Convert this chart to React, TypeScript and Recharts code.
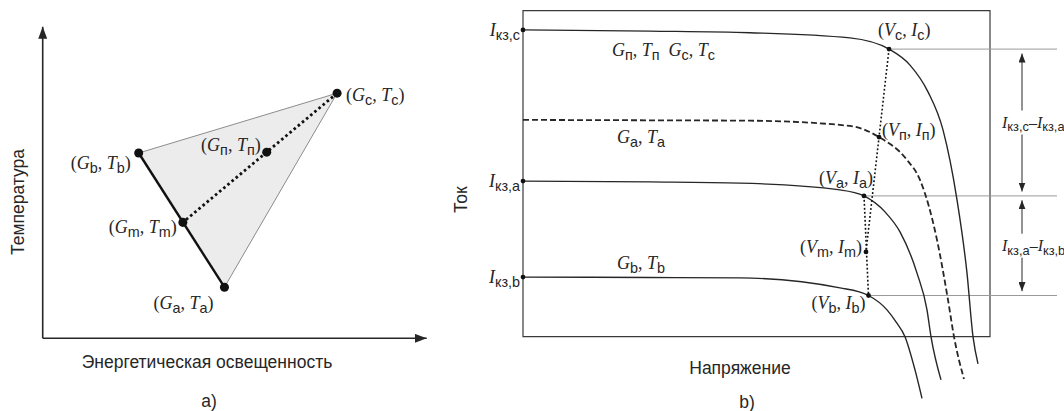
import React from 'react';
import {
  ComposedChart,
  Line,
  Scatter,
  XAxis,
  YAxis,
  ReferenceArea,
  ReferenceLine,
  ReferenceDot,
} from 'recharts';

const SERIF = '"Liberation Serif", "Times New Roman", serif';
const SANS = '"Liberation Sans", Arial, sans-serif';
const INK = '#262626';
const THIN = '#9a9a9a';

// a) irradiance G (W/m²) vs cell temperature T (°C)
const POINT_KEYS = ['c', 'b', 'п', 'm', 'a'];
const POINT_G = [920, 300, 700, 438, 568];
const POINT_T = [59, 44.6, 44.8, 27.9, 12.3];
const G_MAX = 1200;
const T_MAX = 75;

// b) I–V curves, voltage V and current I
const CURVE_C_V = [0, 12.7, 22.7, 32.7, 36.6, 38.7, 40.5, 42.0, 43.4, 44.4, 45.0, 45.5];
const CURVE_C_I = [7.67, 7.64, 7.6, 7.47, 7.19, 6.79, 6.12, 5.17, 3.42, 1.59, 0, -0.68];
const CURVE_N_V = [0, 12.7, 22.7, 32.7, 35.6, 38.4, 39.7, 41.4, 42.5, 43.1, 44.1];
const CURVE_N_I = [5.42, 5.41, 5.4, 5.27, 4.99, 4.42, 3.92, 2.42, 0.92, 0, -1.06];
const CURVE_A_V = [0, 12.7, 21.7, 31.7, 34.1, 36.2, 37.7, 39.4, 40.4, 40.8, 41.8];
const CURVE_A_I = [3.89, 3.87, 3.84, 3.67, 3.52, 3.12, 2.62, 1.59, 0.67, 0, -1.08];
const CURVE_B_V = [0, 12.7, 21.7, 31.7, 34.55, 36.4, 37.3, 38.2, 39.2, 39.9];
const CURVE_B_I = [1.49, 1.48, 1.47, 1.22, 1.03, 0.67, 0.37, 0, -0.83, -1.54];

// operating points (V, I) on each curve
const OP_KEYS = ['c', 'п', 'a', 'm', 'b'];
const OP_V = [36.6, 35.6, 34.1, 34.3, 34.55];
const OP_I = [7.19, 4.99, 3.52, 2.12, 1.03];

// short-circuit currents
const ISC_KEYS = ['c', 'a', 'b'];
const ISC_I = [7.67, 3.89, 1.49];

const FRAME_V = 46.7;
const FRAME_I = 8.15;
const GUIDE_END_V = 53.4;
const SPAN_V = 49.9;

type Seg = [string, number]; // 0 upright, 1 italic, 2 subscript

const zip = (xs: number[], ys: number[]) => xs.map((v, i) => ({ v, i: ys[i] }));

const pair = (a: string, b: string, s: string): Seg[] => [
  ['(', 0], [a, 1], [s, 2], [', ', 0], [b, 1], [s, 2], [')', 0],
];
const gt = (s: string): Seg[] => [['G', 1], [s, 2], [', ', 0], ['T', 1], [s, 2]];
const isc = (s: string): Seg[] => [['I', 1], ['кз,' + s, 2]];

const MathText = ({ x, y, segs, anchor = 'start', size = 18 }: {
  x: number; y: number; segs: Seg[]; anchor?: 'start' | 'end' | 'middle'; size?: number;
}) => {
  const drop = size * 0.22;
  let low = false;
  return (
    <text x={x} y={y + size * 0.33} textAnchor={anchor} fill={INK} fontFamily={SERIF} fontSize={size} style={{ whiteSpace: 'pre' }}>
      {segs.map(([s, k], i) => {
        const sub = k === 2;
        const dy = sub === low ? 0 : sub ? drop : -drop;
        low = sub;
        return (
          <tspan key={i} dy={dy} fontStyle={k === 1 ? 'italic' : 'normal'} fontFamily={sub ? SANS : SERIF} fontSize={sub ? size * 0.8 : size}>
            {s}
          </tspan>
        );
      })}
    </text>
  );
};

const sans = (x: number, y: number, s: string, rotate = false) => (
  <text
    x={x}
    y={y}
    textAnchor="middle"
    dominantBaseline="central"
    fontFamily={SANS}
    fontSize={17.5}
    fill={INK}
    transform={rotate ? `rotate(-90 ${x} ${y})` : undefined}
  >
    {s}
  </text>
);

// text tied to a data point, shifted by a few pixels
const tag = (key: string, x: number, y: number, segs: Seg[], dx: number, dy: number, anchor: 'start' | 'end' = 'start', size = 18) => (
  <ReferenceDot
    key={key}
    x={x}
    y={y}
    r={0}
    fill="none"
    stroke="none"
    ifOverflow="visible"
    label={{
      content: (p: any) => (
        <MathText x={p.viewBox.x + dx} y={p.viewBox.y + dy} segs={segs} anchor={anchor} size={size} />
      ),
    }}
  />
);

const noShape = () => <g />;

const PanelA = () => {
  const pts = POINT_KEYS.map((k, i) => ({ key: k, g: POINT_G[i], t: POINT_T[i] }));
  const P = (k: string) => pts.find((p) => p.key === k)!;
  const labelOffsets: Record<string, [number, number, 'start' | 'end']> = {
    c: [9, 2, 'start'],
    b: [-8, 10, 'end'],
    'п': [-6, -7, 'end'],
    m: [-6, 5, 'end'],
    a: [-11, 16, 'end'],
  };

  return (
    <ComposedChart width={460} height={411} margin={{ top: 26.7, right: 33.3, bottom: 72.7, left: 42.7 }}>
      <defs>
        <marker id="axArrow" markerUnits="userSpaceOnUse" viewBox="0 0 12 9" refX="12" refY="4.5" markerWidth="12" markerHeight="9" orient="auto">
          <path d="M0,0 L12,4.5 L0,9 z" fill={INK} />
        </marker>
      </defs>
      <XAxis type="number" dataKey="g" domain={[0, G_MAX]} hide />
      <YAxis type="number" dataKey="t" domain={[0, T_MAX]} hide />

      {/* axis titles, placed from the plot box */}
      <ReferenceArea
        x1={0}
        x2={G_MAX}
        y1={0}
        y2={T_MAX}
        fill="none"
        stroke="none"
        ifOverflow="visible"
        label={(p: any) => {
          const { x, y, height } = p.viewBox;
          return (
            <g>
              {sans(x + 164.3, y + height + 23.7, 'Энергетическая освещенность')}
              {sans(x + 166.3, y + height + 62.5, 'a)')}
              {sans(x - 25.2, y + 175.3, 'Температура', true)}
            </g>
          );
        }}
      />
      <ReferenceLine segment={[{ x: 0, y: 0 }, { x: G_MAX, y: 0 }]} stroke={INK} strokeWidth={1.6} markerEnd="url(#axArrow)" ifOverflow="visible" />
      <ReferenceLine segment={[{ x: 0, y: 0 }, { x: 0, y: T_MAX }]} stroke={INK} strokeWidth={1.6} markerEnd="url(#axArrow)" ifOverflow="visible" />

      {/* shaded region between the three corner points */}
      <Scatter
        data={[P('b'), P('c'), P('a')]}
        dataKey="t"
        isAnimationActive={false}
        shape={noShape}
        line={(lp: any) => (
          <polygon
            points={lp.points.map((q: any) => `${q.x},${q.y}`).join(' ')}
            fill="#ececec"
            stroke="#8c8c8c"
            strokeWidth={1}
          />
        )}
      />
      <Scatter
        data={[P('b'), P('a')]}
        dataKey="t"
        isAnimationActive={false}
        shape={noShape}
        line={{ stroke: '#111', strokeWidth: 2.4 }}
      />
      <Scatter
        data={[P('c'), P('m')]}
        dataKey="t"
        isAnimationActive={false}
        shape={noShape}
        line={{ stroke: '#111', strokeWidth: 2.8, strokeDasharray: '2.6 2.8' }}
      />
      <Scatter data={pts} dataKey="t" fill="#111" isAnimationActive={false} />

      {pts.map((p) => {
        const [dx, dy, anchor] = labelOffsets[p.key];
        return tag('a' + p.key, p.g, p.t, pair('G', 'T', p.key), dx, dy, anchor);
      })}
    </ComposedChart>
  );
};

const PanelB = () => {
  const curveC = zip(CURVE_C_V, CURVE_C_I);
  const curveN = zip(CURVE_N_V, CURVE_N_I);
  const curveA = zip(CURVE_A_V, CURVE_A_I);
  const curveB = zip(CURVE_B_V, CURVE_B_I);
  const ops = OP_KEYS.map((k, i) => ({ key: k, v: OP_V[i], i: OP_I[i] }));
  const O = (k: string) => ops.find((p) => p.key === k)!;
  const iscs = ISC_KEYS.map((k, i) => ({ key: k, v: 0, i: ISC_I[i] }));

  const opLabel: Record<string, [number, number, 'start' | 'end']> = {
    c: [-11, -19, 'start'],
    'п': [3, -7, 'start'],
    a: [9, -18, 'end'],
    m: [-4, -5, 'end'],
    b: [-3, 8, 'end'],
  };

  const smallDot = (p: any) => <circle cx={p.cx} cy={p.cy} r={2.4} fill="#111" />;

  // double arrows between the guide lines, with a gap for the label
  const spans: [string, string][] = [['c', 'a'], ['a', 'b']];

  return (
    <ComposedChart width={634} height={411} margin={{ top: 0.7, right: 1, bottom: 4.3, left: 83 }}>
      <defs>
        <marker id="spanArrow" markerUnits="userSpaceOnUse" viewBox="0 0 9 7" refX="9" refY="3.5" markerWidth="9" markerHeight="7" orient="auto">
          <path d="M0,0 L9,3.5 L0,7 z" fill={INK} />
        </marker>
      </defs>
      <XAxis type="number" dataKey="v" domain={[-1, 54]} hide />
      <YAxis type="number" dataKey="i" domain={[-1.75, 8.4]} hide />

      <ReferenceArea
        x1={0}
        x2={FRAME_V}
        y1={0}
        y2={FRAME_I}
        fill="none"
        stroke="#3a3a3a"
        strokeWidth={1.2}
        ifOverflow="visible"
        label={(p: any) => {
          const { x, y, height } = p.viewBox;
          return (
            <g>
              {sans(x - 62, y + 189, 'Ток', true)}
              {sans(x + 217, y + height + 31.3, 'Напряжение')}
              {sans(x + 224, y + height + 64.8, 'b)')}
            </g>
          );
        }}
      />

      {ops
        .filter((p) => p.key !== 'п' && p.key !== 'm')
        .map((p) => (
          <ReferenceLine
            key={'g' + p.key}
            segment={[{ x: p.v, y: p.i }, { x: GUIDE_END_V, y: p.i }]}
            stroke={THIN}
            strokeWidth={1}
            ifOverflow="visible"
          />
        ))}

      {spans.map(([hi, lo]) => {
        const top = O(hi).i - 0.11;
        const bottom = O(lo).i + 0.11;
        const mid = (O(hi).i + O(lo).i) / 2;
        return [
          <ReferenceLine key={'u' + hi} segment={[{ x: SPAN_V, y: mid + 0.3 }, { x: SPAN_V, y: top }]} stroke={INK} strokeWidth={1} markerEnd="url(#spanArrow)" ifOverflow="visible" />,
          <ReferenceLine key={'d' + hi} segment={[{ x: SPAN_V, y: mid - 0.3 }, { x: SPAN_V, y: bottom }]} stroke={INK} strokeWidth={1} markerEnd="url(#spanArrow)" ifOverflow="visible" />,
          tag('s' + hi, SPAN_V, mid, [...isc(hi), ['–', 0], ...isc(lo)], -20, 0, 'start', 16),
        ];
      })}

      <Line data={curveC} dataKey="i" type="monotone" stroke={INK} strokeWidth={1.4} dot={false} isAnimationActive={false} />
      <Line data={curveN} dataKey="i" type="monotone" stroke={INK} strokeWidth={1.8} strokeDasharray="6 3" dot={false} isAnimationActive={false} />
      <Line data={curveA} dataKey="i" type="monotone" stroke={INK} strokeWidth={1.4} dot={false} isAnimationActive={false} />
      <Line data={curveB} dataKey="i" type="monotone" stroke={INK} strokeWidth={1.4} dot={false} isAnimationActive={false} />

      <Line data={[O('c'), O('m')]} dataKey="i" type="linear" stroke="#111" strokeWidth={1.6} strokeDasharray="1.8 2.2" dot={false} isAnimationActive={false} />
      <Line data={[O('a'), O('b')]} dataKey="i" type="linear" stroke="#111" strokeWidth={1.6} strokeDasharray="1.8 2.2" dot={false} isAnimationActive={false} />

      <Scatter data={ops} dataKey="i" shape={smallDot} isAnimationActive={false} />
      <Scatter data={iscs} dataKey="i" shape={smallDot} isAnimationActive={false} />

      {ops.map((p) => {
        const [dx, dy, anchor] = opLabel[p.key];
        return tag('o' + p.key, p.v, p.i, pair('V', 'I', p.key), dx, dy, anchor);
      })}
      {iscs.map((p) => tag('i' + p.key, p.v, p.i, isc(p.key), -3, 0, 'end', 18))}

      {tag('lc', 8.9, 7.17, [...gt('п'), ['  ', 0], ...gt('c')], 0, 0)}
      {tag('la', 9.4, 4.99, gt('a'), 0, 0)}
      {tag('lb', 9.4, 1.84, gt('b'), 0, 0)}
    </ComposedChart>
  );
};

export default function App() {
  return (
    <div style={{ position: 'absolute', left: 0, top: 0, width: 1064, height: 411, background: '#fff' }}>
      <div style={{ position: 'absolute', left: 0, top: 0 }}>
        <PanelA />
      </div>
      <div style={{ position: 'absolute', left: 430, top: 0 }}>
        <PanelB />
      </div>
    </div>
  );
}
